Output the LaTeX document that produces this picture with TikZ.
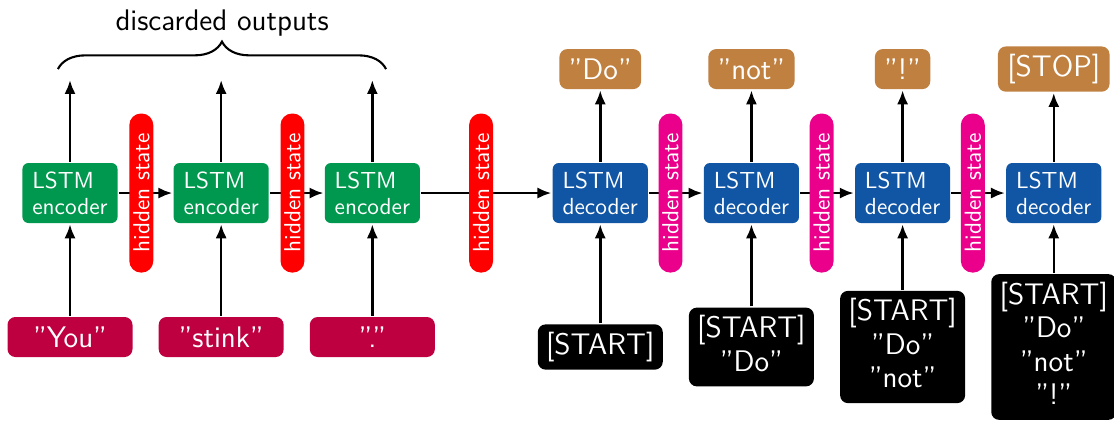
\documentclass[tikz,border=0pt]{standalone}
\usepackage{tikz}
\usetikzlibrary{arrows.meta,decorations.pathreplacing}

\definecolor{encgreen}{RGB}{0,152,78}
\definecolor{decblue}{RGB}{17,85,165}
\definecolor{statepink}{RGB}{234,0,138}
\newcommand{\boxfont}{\sffamily\fontsize{12.8}{14.4}\selectfont}
\newcommand{\cellfont}{\sffamily\fontsize{10}{11.2}\selectfont}

\begin{document}
\begin{tikzpicture}[node distance=65pt, font=\sffamily, line width=1.1pt,
    >={Latex[length=6pt,width=4.8pt]},
    cell/.style={rounded corners=2.6pt, text=white, font=\cellfont, align=left,
      minimum width=40.9pt, minimum height=25.8pt, inner sep=0pt},
    statebar/.style={rounded corners=5pt, rotate=90, text=white, font=\cellfont,
      minimum width=68.4pt, minimum height=10.3pt, inner sep=0pt},
    word/.style={fill=purple, rounded corners=3.4pt, text=white, font=\boxfont,
      minimum width=53.75pt, minimum height=17.2pt},
    token/.style={fill=brown, rounded corners=3.4pt, text=white, font=\boxfont,
      inner xsep=4pt, minimum height=17.2pt},
    prompt/.style={fill=black, rounded corners=3.4pt, text=white, font=\boxfont,
      align=center, inner xsep=3pt, minimum width=53.75pt, text depth=3.2pt}]
      \useasboundingbox (0,0) rectangle (479pt,-182.75pt);
      % encoder side
      \node[cell, fill=encgreen] (Enc1) at (30.1pt,-83pt) {LSTM\\encoder};
      \node[cell, fill=encgreen] (Enc2) [right of=Enc1] {LSTM\\encoder};
      \node[cell, fill=encgreen] (Enc3) [right of=Enc2] {LSTM\\encoder};
      \node[word] (In1) [node distance=61.9pt, below of=Enc1] {''You''};
      \node[word] (In2) [node distance=61.9pt, below of=Enc2] {''stink''};
      \node[word] (In3) [node distance=61.9pt, below of=Enc3] {''.''};
      \coordinate[node distance=48.6pt, above of=Enc1] (Out1);
      \coordinate[node distance=48.6pt, above of=Enc2] (Out2);
      \coordinate[node distance=48.6pt, above of=Enc3] (Out3);
      % decoder side
      \node[cell, fill=decblue] (Dec1) [node distance=98pt, right of=Enc3] {LSTM\\decoder};
      \node[cell, fill=decblue] (Dec2) [right of=Dec1] {LSTM\\decoder};
      \node[cell, fill=decblue] (Dec3) [right of=Dec2] {LSTM\\decoder};
      \node[cell, fill=decblue] (Dec4) [right of=Dec3] {LSTM\\decoder};
      \node[token] (Tok1) [node distance=53.3pt, above of=Dec1] {''Do''};
      \node[token] (Tok2) [node distance=53.3pt, above of=Dec2] {''not''};
      \node[token] (Tok3) [node distance=53.3pt, above of=Dec3] {''!''};
      \node[token] (Tok4) [node distance=53.3pt, above of=Dec4] {[STOP]};
      \node[prompt] (Ctx1) [node distance=66.2pt, below of=Dec1] {[START]};
      \node[prompt] (Ctx2) [node distance=66.2pt, below of=Dec2] {[START]\\''Do''};
      \node[prompt] (Ctx3) [node distance=66.2pt, below of=Dec3] {[START]\\''Do''\\''not''};
      \node[prompt] (Ctx4) [node distance=66.2pt, below of=Dec4] {[START]\\''Do''\\''not''\\''!''};
      % brace over the encoder outputs
      \coordinate (BraceL) at (24.9pt,-29.7pt);
      \coordinate (BraceR) at (166pt,-29.7pt);
      \draw[decorate, decoration={brace, amplitude=11.8pt}, line width=0.9pt] (BraceL) -- (BraceR);
      \node (Disc) at (95.5pt,-9.8pt) {\boxfont discarded outputs};
      % connectors
      \draw[->] (In1) -- (Enc1);
      \draw[->] (In2) -- (Enc2);
      \draw[->] (In3) -- (Enc3);
      \draw[->] (Enc1) -- (Out1);
      \draw[->] (Enc2) -- (Out2);
      \draw[->] (Enc3) -- (Out3);
      \draw[->] (Ctx1) -- (Dec1);
      \draw[->] (Ctx2) -- (Dec2);
      \draw[->] (Ctx3) -- (Dec3);
      \draw[->] (Ctx4) -- (Dec4);
      \draw[->] (Dec1) -- (Tok1);
      \draw[->] (Dec2) -- (Tok2);
      \draw[->] (Dec3) -- (Tok3);
      \draw[->] (Dec4) -- (Tok4);
      \draw[->] (Enc1) -- node[statebar, fill=red, pos=0.42] (Hid1) {hidden state} (Enc2);
      \draw[->] (Enc2) -- node[statebar, fill=red, pos=0.42] (Hid2) {hidden state} (Enc3);
      \draw[->] (Enc3) -- node[statebar, fill=red, pos=0.46] (Hid3) {hidden state} (Dec1);
      \draw[->] (Dec1) -- node[statebar, fill=statepink, pos=0.4] (Hid4) {hidden state} (Dec2);
      \draw[->] (Dec2) -- node[statebar, fill=statepink, pos=0.4] (Hid5) {hidden state} (Dec3);
      \draw[->] (Dec3) -- node[statebar, fill=statepink, pos=0.4] (Hid6) {hidden state} (Dec4);
    \end{tikzpicture}
\end{document}
